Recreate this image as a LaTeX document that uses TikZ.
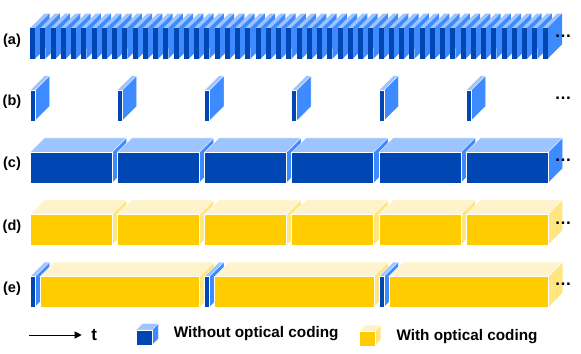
\documentclass[tikz,border=0pt]{standalone}
\usepackage{fontspec}
\setmainfont{Liberation Sans}
\usetikzlibrary{arrows.meta}
\definecolor{bfront}{RGB}{0,71,179}
\definecolor{bside}{RGB}{61,139,255}
\definecolor{btop}{RGB}{158,196,255}
\definecolor{yfront}{RGB}{255,204,0}
\definecolor{yside}{RGB}{255,230,128}
\definecolor{ytop}{RGB}{255,243,204}
\tikzset{face/.style={draw=white,line width=.3bp}}
% x y w h d front side top
\newcommand\mycube[8]{%
  \filldraw[face,fill=#8] (#1,#2) -- ++(#5,-#5) -- ++(#3,0) -- ++(-#5,#5) -- cycle;
  \filldraw[face,fill=#7] (#1+#3,#2) -- ++(#5,-#5) -- ++(0,#4) -- ++(-#5,#5) -- cycle;
  \filldraw[face,fill=#6] (#1,#2) rectangle ++(#3,#4);
}
\tikzset{
  rowlabel/.style={font=\fontsize{14.5bp}{16bp}\selectfont\bfseries, inner sep=0pt},
  dots/.style={font=\fontsize{17bp}{18bp}\selectfont\bfseries, inner sep=0pt, anchor=base west},
  legend/.style={font=\fontsize{15.3bp}{17bp}\selectfont\bfseries, inner sep=0pt, anchor=base west},
}
\begin{document}
\begin{tikzpicture}[x=1bp,y=-1bp]
\useasboundingbox (0,0) rectangle (581,353);
\def\H{30.6}
\def\D{14.5}
% (a)
\begin{scope}[face/.style={draw=none}]
\foreach \i in {0,...,50}{
  \mycube{30+\i*10.25}{28.2}{5}{\H}{\D}{bfront}{bside}{btop}
}
\end{scope}
% (b)
\foreach \i in {0,...,5}{
  \mycube{30+\i*87.2}{90.3}{5}{\H}{\D}{bfront}{bside}{btop}
}
% (c)
\foreach \i in {0,...,5}{
  \mycube{30+\i*87.2}{152.4}{82}{\H}{\D}{bfront}{bside}{btop}
}
% (d)
\foreach \i in {0,...,5}{
  \mycube{30+\i*87.2}{214.5}{82}{\H}{\D}{yfront}{yside}{ytop}
}
% (e)
\foreach \i in {0,...,2}{
  \mycube{30+\i*174.4}{276.6}{5}{\H}{\D}{bfront}{bside}{btop}
  \mycube{40+\i*174.4}{276.6}{159.5}{\H}{\D}{yfront}{yside}{ytop}
}
% labels
\node[rowlabel] (la) at (12,40.5) {(a)};
\node[rowlabel] (lb) at (12,102.2) {(b)};
\node[rowlabel] (lc) at (12,164) {(c)};
\node[rowlabel] (ld) at (12,226.5) {(d)};
\node[rowlabel] (le) at (12,288.5) {(e)};
% dots
\node[dots] (da) at (554.5,37.6) {…};
\node[dots] (db) at (554.5,99.8) {…};
\node[dots] (dc) at (554.5,161.8) {…};
\node[dots] (dd) at (554.5,224) {…};
\node[dots] (de) at (554.5,285.6) {…};
% legend
\coordinate (as) at (29.3,335);
\coordinate (ae) at (81.7,335);
\draw[line width=1bp,-{Triangle[length=7bp,width=7bp]}] (as) -- (ae);
\node[font=\fontsize{17bp}{18bp}\selectfont\bfseries, inner sep=0pt, anchor=base west] (t) at (91.2,340) {t};
\mycube{136.2}{330}{15.8}{15}{6.3}{bfront}{bside}{btop}
\node[legend] (l1) at (173.6,337.3) {Without optical coding};
\mycube{359}{331}{15.8}{14.8}{6}{yfront}{yside}{ytop}
\node[legend] (l2) at (396.3,340) {With optical coding};
\end{tikzpicture}
\end{document}
